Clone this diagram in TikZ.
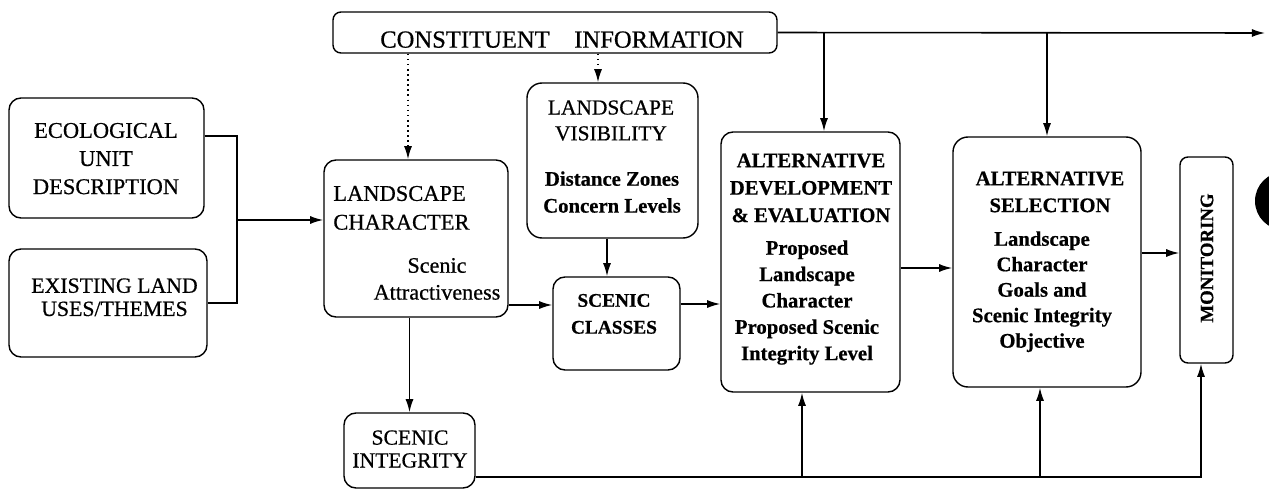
\documentclass[tikz,border=0pt]{standalone}
\usepackage{fontspec}
\setmainfont{Liberation Serif}[FakeBold=0.6]
\usetikzlibrary{arrows.meta,fit}
\tikzset{
  box/.style={draw, line width=0.8pt, rounded corners=0.24cm, inner sep=0pt},
  txt/.style={inner sep=0pt, align=center, anchor=north},
  arr/.style={line width=0.9pt, -{Latex[length=7.5pt,width=4.6pt]}},
  dotarr/.style={arr, dotted},
  link/.style={line width=0.7pt}
}
\begin{document}
\begin{tikzpicture}[x=0.02cm, y=-0.02cm]
\useasboundingbox (0,0) rectangle (1269,490);
\begin{scope}
  \clip (0,0) rectangle (1269,490);
  \fill (1284,201) circle (0.58cm);
\end{scope}

% boxes
\node[box, rounded corners=0.16cm, fit={(333,12) (777,53)}] (consti) {};
\node[box, fit={(9,98) (204,218)}] (eco) {};
\node[box, fit={(9,249) (207,357)}] (exist) {};
\node[box, fit={(324,160) (508,317)}] (lc) {};
\node[box, rounded corners=0.3cm, fit={(527,83) (698,238)}] (lv) {};
\node[box, fit={(553,277) (680,370)}] (sc) {};
\node[box, fit={(344,413) (475,488)}] (si) {};
\node[box, fit={(721,132) (900,392)}] (altdev) {};
\node[box, rounded corners=0.3cm, fit={(953,137) (1141,387)}] (altsel) {};
\node[box, rounded corners=0.16cm, fit={(1180,157) (1233,363)}] (mon) {};

% texts
\node[txt, font=\fontsize{14}{16}\selectfont] (constiT) at (562,31) {CONSTITUENT\quad INFORMATION};
\node[txt, font=\fontsize{12.8}{16}\selectfont] (ecoT) at (106,122.6) {ECOLOGICAL\\UNIT\\DESCRIPTION};
\node[txt, font=\fontsize{12.4}{13.2}\selectfont] (existT) at (114.5,278) {EXISTING LAND\\USES/THEMES};
\node[txt, align=left, anchor=north west, font=\fontsize{12.8}{16.4}\selectfont] (lcT) at (333,185.6) {LANDSCAPE\\CHARACTER};
\node[txt, font=\fontsize{12.6}{15.3}\selectfont] (lcB) at (437,257.7) {Scenic\\Attractiveness};
\node[txt, font=\fontsize{12.2}{14.7}\selectfont] (lvT) at (611,100) {LANDSCAPE\\VISIBILITY};
\node[txt, font=\bfseries\fontsize{11.8}{15.3}\selectfont] (lvB) at (612,171) {Distance Zones\\Concern Levels};
\node[txt, font=\bfseries\fontsize{11}{15.3}\selectfont] (scT) at (614,293.6) {SCENIC\\CLASSES};
\node[txt, font=\fontsize{12.3}{13}\selectfont] (siT) at (410,430) {SCENIC\\INTEGRITY};
\node[txt, font=\bfseries\fontsize{11.8}{15.6}\selectfont] (altdevT) at (811,153.2) {ALTERNATIVE\\DEVELOPMENT\\\&\ EVALUATION};
\node[txt, font=\bfseries\fontsize{11.8}{15}\selectfont] (altdevB) at (807,240) {Proposed\\Landscape\\Character\\Proposed Scenic\\Integrity Level};
\node[txt, font=\bfseries\fontsize{11.8}{15.3}\selectfont] (altselT) at (1050,171.2) {ALTERNATIVE\\SELECTION};
\node[txt, font=\bfseries\fontsize{11.8}{14.5}\selectfont] (altselB) at (1042,231) {Landscape\\Character\\Goals and\\Scenic Integrity\\Objective};
\node[inner sep=0pt, rotate=90, font=\bfseries\fontsize{10.7}{12}\selectfont] (monT) at (1207,258) {MONITORING};

% helper coordinates
\coordinate (outR) at (1265,33);
\coordinate (brk) at (237,220);
\coordinate (p1) at ([yshift=0.37cm]sc.west);
\coordinate (p2) at ([xshift=-0.19cm]sc.north);
\coordinate (p3) at ([yshift=0.39cm]sc.east);
\coordinate (p4) at ([yshift=-0.12cm]altdev.east);
\coordinate (p5) at ([yshift=0.18cm]altsel.east);
\coordinate (p6) at ([yshift=-0.53cm]si.east);
\coordinate (p7) at ([xshift=-0.11cm]mon.south);
\coordinate (p8) at ([xshift=-0.17cm]altdev.south);
\coordinate (p9) at ([xshift=-0.14cm]altsel.south);
\coordinate (d1) at ([xshift=-0.16cm]lc.north);
\coordinate (d2) at ([xshift=-0.29cm]lv.north);
\coordinate (d3) at ([xshift=0.27cm]altdev.north);
\coordinate (e1) at ([yshift=0.44cm]eco.east);

% connectors
\draw[dotarr] (d1 |- consti.south) -- (d1);
\draw[dotarr] (d2 |- consti.south) -- (d2);
\draw[arr] (consti.east) -- (outR);
\draw[arr] (d3 |- outR) -- (d3);
\draw[arr] (altsel.north |- outR) -- (altsel.north);
\draw[link] (e1) -| (brk) |- (exist.east);
\draw[arr] (brk) -- (brk -| lc.west);
\draw[arr] (si.north |- lc.south) -- (si.north);
\draw[arr] (p1 -| lc.east) -- (p1);
\draw[arr] (p2 |- lv.south) -- (p2);
\draw[arr] (p3) -- (p3 -| altdev.west);
\draw[arr] (p4) -- (p4 -| altsel.west);
\draw[arr] (p5) -- (p5 -| mon.west);
\draw[arr] (p6) -| (p7);
\draw[arr] (p8 |- p6) -- (p8);
\draw[arr] (p9 |- p6) -- (p9);
\end{tikzpicture}
\end{document}
